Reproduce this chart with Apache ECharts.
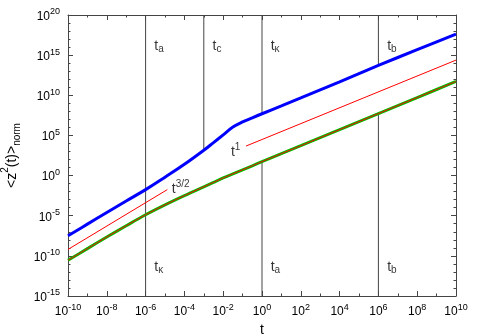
<!DOCTYPE html>
<html><head><meta charset="utf-8">
<script src="https://cdn.jsdelivr.net/npm/echarts@6/dist/echarts.min.js"></script>
<style>html,body{margin:0;padding:0;background:#fff}#c{width:480px;height:336px}</style>
</head><body><div id="c"></div>
<script>
// log10(t) sample positions
const logT = [-10,-9,-8,-7,-6,-5,-4,-3,-2.5,-2,-1.5,-1,-0.5,0,1,2,4,6,8,10];
// log10(<z^2(t)>norm)
const blueLog = [-7.5,-6.05,-4.6,-3.17,-1.75,-0.2,1.4,3.15,4.1,5.07,6.05,6.68,7.2,7.7,8.68,9.67,11.68,13.72,15.68,17.63];
const greenLog = [-10.55,-9.1,-7.65,-6.25,-4.88,-3.65,-2.5,-1.4,-0.85,-0.3,0.22,0.72,1.22,1.73,2.73,3.72,5.72,7.72,9.72,11.72];
// power-law guide lines (log10 t, log10 value)
const guide32 = [[-10,-9.2],[-4.88,-1.75]];
const guide1 = [[-0.82,3.68],[10,14.38]];
// characteristic times (log10 t)
const tA = -6, tC = -3, tK = 0, tB = 6;
const xTicks = [-10,-8,-6,-4,-2,0,2,4,6,8,10];
const yTicks = [-15,-10,-5,0,5,10,15,20];

function valAt(arr, e){ return arr[logT.indexOf(e)]; }
const X0=-10, X1=10, Y0=-15, Y1=20;

const vlines = [
  [[tA,Y0],[tA,Y1]],
  [[tC,valAt(blueLog,tC)],[tC,Y1]],
  [[tK,valAt(blueLog,tK)],[tK,Y1]],
  [[tK,Y0],[tK,valAt(greenLog,tK)]],
  [[tB,valAt(blueLog,tB)],[tB,Y1]],
  [[tB,Y0],[tB,valAt(greenLog,tB)]]
];
const topLabelY = 16.0, botLabelY = -11.5, lblOff = 0.45;
const tLabels = [
  {pos:[tA+lblOff, topLabelY], sub:'a'},
  {pos:[tC+lblOff, topLabelY], sub:'c'},
  {pos:[tK+lblOff, topLabelY], sub:'κ'},
  {pos:[tB+lblOff, topLabelY], sub:'b'},
  {pos:[tA+lblOff, botLabelY], sub:'κ'},
  {pos:[tK+lblOff, botLabelY], sub:'a'},
  {pos:[tB+lblOff, botLabelY], sub:'b'}
];
const powLabels = [
  {pos:[-4.65,-2.5], sup:'3/2'},
  {pos:[-1.6,2.1], sup:'1'}
];

const FONT = 'Liberation Sans';
const AX = '#444';
function tickFmt(v){ return '{b|10}{s|' + v + '}'; }
const tickRich = {
  b:{fontSize:12, fontFamily:FONT, color:'#000', verticalAlign:'bottom'},
  s:{fontSize:9, fontFamily:FONT, color:'#000', verticalAlign:'top', padding:[0,0,6,0]}
};
function axisCommon(show){
  return {
    axisLine:{show:true, onZero:false, lineStyle:{color:AX, width:1}},
    axisTick:{show:true, inside:true, length:5, lineStyle:{color:AX}},
    splitLine:{show:false},
    axisLabel:{show:show}
  };
}
const xBase = {type:'value', min:X0, max:X1, interval:2};
const yBase = {type:'value', min:Y0, max:Y1, interval:5};

const series = [];
vlines.forEach(seg => series.push({type:'line', data:seg, symbol:'none', silent:true,
  lineStyle:{color:AX, width:1}, z:1}));
series.push({type:'line', data:logT.map((e,i)=>[e,blueLog[i]]), symbol:'none', smooth:0.4,
  lineStyle:{color:'#0000ff', width:3}, z:3});
series.push({type:'line', data:logT.map((e,i)=>[e,greenLog[i]]), symbol:'none', smooth:0.35,
  lineStyle:{color:'#00c000', width:3}, z:3});
series.push({type:'line', data:logT.map((e,i)=>[e,greenLog[i]]), symbol:'none', smooth:0.35,
  lineStyle:{color:'#ff0000', width:1}, z:4});
series.push({type:'line', data:guide32, symbol:'none', lineStyle:{color:'#ff0000', width:1}, z:4});
series.push({type:'line', data:guide1, symbol:'none', lineStyle:{color:'#ff0000', width:1}, z:4});
series.push({type:'scatter', symbolSize:0, silent:true, z:5,
  data: tLabels.map(l=>({value:l.pos, label:{formatter:'{t|t}{u|'+l.sub+'}'}})),
  label:{show:true, position:'inside', align:'left', verticalAlign:'middle',
    rich:{t:{fontSize:14, fontFamily:FONT, color:'#000', verticalAlign:'top'},
          u:{fontSize:10, fontFamily:FONT, color:'#000', verticalAlign:'bottom', padding:[5,0,0,0]}}}
});
series.push({type:'scatter', symbolSize:0, silent:true, z:5,
  data: powLabels.map(l=>({value:l.pos, label:{formatter:'{t|t}{p|'+l.sup+'}'}})),
  label:{show:true, position:'inside', align:'left', verticalAlign:'bottom',
    rich:{t:{fontSize:14, fontFamily:FONT, color:'#000', verticalAlign:'bottom'},
          p:{fontSize:10, fontFamily:FONT, color:'#000', verticalAlign:'top', padding:[0,0,6,0]}}}
});

const chart = echarts.init(document.getElementById('c'), null, {renderer:'canvas'});
chart.setOption({
  animation:false,
  backgroundColor:'#fff',
  grid:{left:68, right:24, top:15, bottom:40, containLabel:false, outerBoundsMode:'none'},
  xAxis:[
    Object.assign({}, xBase, axisCommon(true), {position:'bottom',
      name:'t', nameLocation:'middle', nameGap:19,
      nameTextStyle:{fontSize:14, fontFamily:FONT, color:'#000'},
      minorTick:{show:true, splitNumber:2, length:2.5, lineStyle:{color:AX}},
      axisLabel:{show:true, margin:7, formatter:tickFmt, rich:tickRich}}),
    Object.assign({}, xBase, axisCommon(false), {position:'top',
      minorTick:{show:true, splitNumber:2, length:2.5, lineStyle:{color:AX}}})
  ],
  yAxis:[
    Object.assign({}, yBase, axisCommon(true), {position:'left',
      name:'{a|<z}{s|2}{a|(t)>}{n|norm}', nameLocation:'middle', nameGap:40,
      nameTextStyle:{fontFamily:FONT, color:'#000',
        rich:{a:{fontSize:14, fontFamily:FONT, color:'#000', verticalAlign:'middle'},
              s:{fontSize:10, fontFamily:FONT, color:'#000', verticalAlign:'top', padding:[0,0,12,0]},
              n:{fontSize:10, fontFamily:FONT, color:'#000', verticalAlign:'bottom', padding:[12,0,0,0]}}},
      minorTick:{show:true, splitNumber:5, length:2.5, lineStyle:{color:AX}},
      axisLabel:{show:true, margin:8, formatter:tickFmt, rich:tickRich}}),
    Object.assign({}, yBase, axisCommon(false), {position:'right',
      minorTick:{show:true, splitNumber:5, length:2.5, lineStyle:{color:AX}}})
  ],
  series: series
});
</script>
</body></html>
